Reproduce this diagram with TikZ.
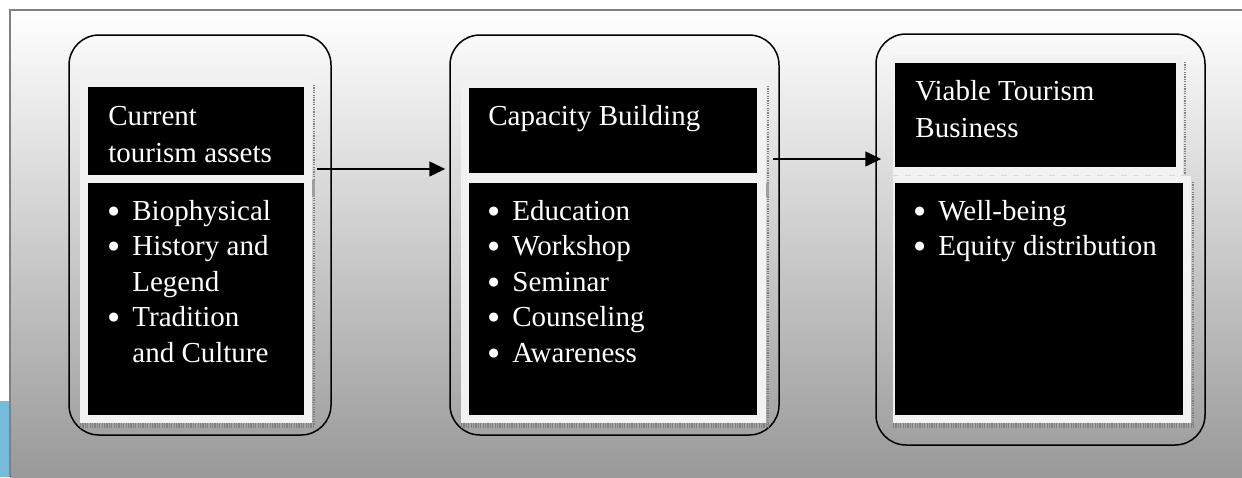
\documentclass[tikz,border=0pt]{standalone}
\usepackage{fontspec}
\setmainfont{Liberation Serif}
\usetikzlibrary{arrows.meta, fit}

\definecolor{panelgray}{HTML}{F2F2F2}
\definecolor{framegray}{HTML}{808080}
\definecolor{stripblue}{HTML}{74BCD9}
\definecolor{bgmiddle}{HTML}{D4D4D4}
\definecolor{bgbottom}{HTML}{999999}

\tikzset{
  roundbox/.style={draw=black, line width=0.75pt, rounded corners=15pt, inner sep=0pt},
  panel/.style={fill=panelgray, inner sep=0pt},
  blackbox/.style={fill=black, inner sep=0pt},
  shadowline/.style={draw=gray, dash pattern=on 0.6pt off 0.6pt},
  headtext/.style={text=white, inner sep=0pt, anchor=base west, font=\fontsize{14.5}{18.5}\selectfont},
  listtext/.style={text=white, inner sep=0pt, anchor=base west, font=\fontsize{14.5}{17.75}\selectfont},
  flow/.style={line width=0.8pt, -{Triangle[length=8pt, width=7.5pt]}}
}
\newcommand{\bul}{\makebox[12pt][l]{\hspace{-0.5pt}\raisebox{1.5pt}{\fontsize{10.5}{10.5}\selectfont\char"25CF}}}
\newcommand{\nobul}{\makebox[12pt]{}}

\begin{document}
\begin{tikzpicture}[x=0.5pt, y=-0.5pt]
\useasboundingbox (0,0) rectangle (1242,477);

%% 背景: 渐变, 边框, 左下角蓝条
\shade[top color=white, middle color=bgmiddle, bottom color=bgbottom] (10,10) rectangle (1242,477);
\draw[framegray, line width=1pt] (10,477) -- (10,10) -- (1242,10);
\fill[stripblue] (0,401) rectangle (9,477);

%% 三个圆角框
\node[roundbox, fit={(69,35) (331,435)}] (boxA) {};
\node[roundbox, fit={(450,35) (779,435)}] (boxB) {};
\node[roundbox, fit={(876,34) (1205,445)}] (boxC) {};

%% 阴影(虚点线)
\draw[shadowline, line width=1pt] (313.5,85) -- (313.5,425);
\draw[shadowline, line width=2.5pt] (80,425.5) -- (315,425.5);
\draw[shadowline, line width=1pt] (767.5,86) -- (767.5,425);
\draw[shadowline, line width=2.5pt] (461,425.5) -- (769,425.5);
\draw[shadowline, line width=1pt] (1185,62) -- (1185,174);
\draw[shadowline, line width=1pt] (1192.5,182) -- (1192.5,425);
\draw[shadowline, line width=2.5pt] (893,425.5) -- (1194,425.5);

%% 浅色底板
\node[panel, fit={(80,79) (312,423)}] (panelA) {};
\node[panel, fit={(461,80) (766,423)}] (panelB) {};
\node[panel, fit={(893,55) (1183,176)}] (panelC) {};
\node[panel, fit={(893,176) (1191,423)}] (panelD) {};
\fill[gray!75] (312,180) rectangle (315,197);
\fill[gray!75] (766,183) rectangle (769,197);
\draw[gray!30, dashed, line width=0.5pt] (panelD.north west) -- (panelD.north east);

%% 黑色方框
\node[blackbox, fit={(88,87) (304,175)}] (headA) {};
\node[blackbox, fit={(88,183) (304,415)}] (listA) {};
\node[blackbox, fit={(469,88) (757,173)}] (headB) {};
\node[blackbox, fit={(469,183) (757,415)}] (listB) {};
\node[blackbox, fit={(895,63) (1176,167)}] (headC) {};
\node[blackbox, fit={(895,183) (1183,415)}] (listC) {};

%% 文字
\node[headtext] (titleA) at (108,125) {\begin{tabular}[t]{@{}l@{}}Current\\tourism assets\end{tabular}};
\node[listtext] (itemsA) at (108,220) {\begin{tabular}[t]{@{}l@{}}\bul Biophysical\\\bul History and\\\nobul Legend\\\bul Tradition\\\nobul and Culture\end{tabular}};
\node[headtext] (titleB) at (488,125) {Capacity Building};
\node[listtext] (itemsB) at (488,220) {\begin{tabular}[t]{@{}l@{}}\bul Education\\\bul Workshop\\\bul Seminar\\\bul Counseling\\\bul Awareness\end{tabular}};
\node[headtext] (titleC) at (915,100) {\begin{tabular}[t]{@{}l@{}}Viable Tourism\\Business\end{tabular}};
\node[listtext] (itemsC) at (914,220) {\begin{tabular}[t]{@{}l@{}}\bul Well-being\\\bul Equity distribution\end{tabular}};

%% 箭头
\coordinate (arrowA) at (0,169);
\coordinate (arrowB) at (0,159);
\draw[flow] ([xshift=2.5pt]panelA.east |- arrowA) -- ([xshift=-2pt]boxB.west |- arrowA);
\draw[flow] ([xshift=3.5pt]panelB.east |- arrowB) -- ([xshift=3pt]boxC.west |- arrowB);

\end{tikzpicture}
\end{document}
